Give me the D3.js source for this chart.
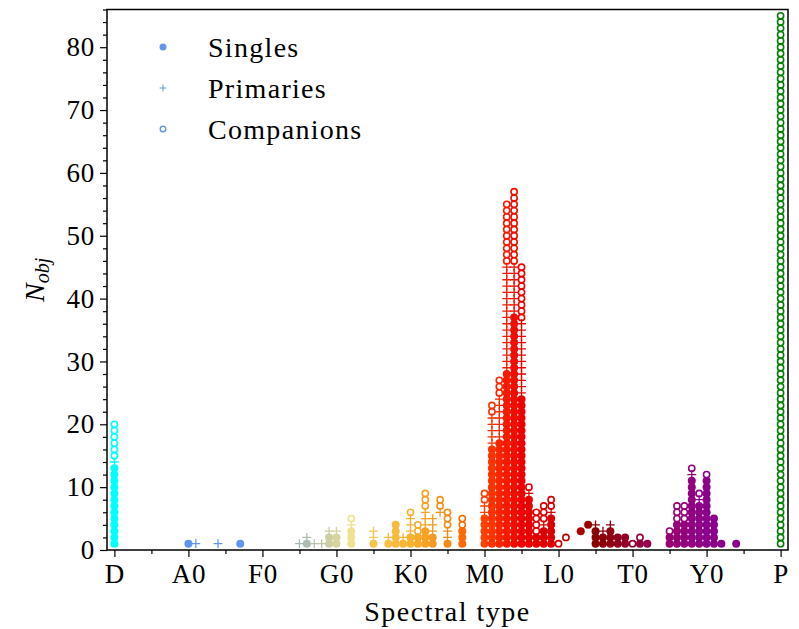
<!DOCTYPE html>
<html>
<head>
<meta charset="utf-8">
<script src="https://cdn.jsdelivr.net/npm/d3@7"></script>
<style>
  body { margin: 0; background: #fff; }
  text { font-family: "Liberation Serif", "DejaVu Serif", serif; fill: #000; }
</style>
</head>
<body>
<div id="chart"></div>
<script>
const width = 799;
const height = 629;

// spectral subtype codes: D=0, A0=10, F0=20, G0=30, K0=40, M0=50, L0=60, T0=70, Y0=80, P=90
const spType = [0, 10, 11, 14, 17, 25, 26, 27, 28, 29, 30, 32, 35, 37, 38, 39,
  40, 41, 42, 43, 44, 45, 47, 50, 51, 52, 53, 54, 55, 56, 57, 58, 59,
  60, 61, 63, 64, 65, 66, 67, 68, 69, 70, 71, 72, 75, 76, 77, 78, 79,
  80, 81, 82, 84, 90];
const singles = [13, 1, 0, 0, 1, 0, 1, 0, 0, 2, 2, 3, 1, 1, 4, 1,
  2, 2, 3, 2, 0, 1, 3, 5, 16, 17, 28, 37, 24, 8, 2, 3, 5,
  0, 0, 1, 1, 3, 2, 3, 2, 2, 0, 1, 1, 2, 4, 4, 11, 7,
  11, 5, 1, 1, 0];
const primaries = [1, 0, 1, 1, 0, 1, 1, 1, 1, 1, 1, 1, 2, 1, 0, 1,
  3, 0, 3, 3, 1, 2, 0, 2, 5, 7, 17, 8, 12, 1, 0, 1, 1,
  0, 0, 0, 0, 1, 1, 1, 0, 0, 0, 0, 0, 0, 0, 0, 1, 1,
  0, 0, 0, 0, 0];
const companions = [6, 0, 0, 0, 0, 0, 0, 0, 0, 0, 0, 1, 0, 0, 0, 0,
  1, 2, 3, 0, 2, 3, 2, 2, 2, 3, 10, 12, 9, 1, 4, 3, 2,
  1, 1, 0, 0, 0, 0, 0, 0, 0, 1, 1, 0, 1, 3, 3, 1, 1,
  1, 0, 0, 0, 85];
// empty slots below the first marker of a column
const emptyBelow = [0, 0, 0, 0, 0, 0, 0, 0, 0, 0, 0, 0, 0, 0, 0, 0,
  0, 0, 0, 0, 5, 0, 0, 0, 0, 0, 0, 0, 0, 0, 0, 0, 0,
  0, 1, 2, 3, 0, 0, 0, 0, 0, 0, 0, 0, 0, 0, 0, 0, 0,
  0, 0, 0, 0, 0];

const xTickVals = [0, 10, 20, 30, 40, 50, 60, 70, 80, 90];
const xTickLabels = ["D", "A0", "F0", "G0", "K0", "M0", "L0", "T0", "Y0", "P"];
const yTickVals = [0, 10, 20, 30, 40, 50, 60, 70, 80];

const colorStops = [0, 10, 17, 25, 30, 32, 35, 40, 45, 47, 50, 55, 60, 65, 70, 75, 80, 85, 90];
const colorValues = ["#00ffff", "#6495ed", "#6495ed", "#a3b6b8", "#d7d49d", "#eee28e", "#f7c44c",
  "#f8b232", "#f78a12", "#ff6a00", "#ff4000", "#ee0000", "#d40000", "#8b0000", "#940030",
  "#990070", "#8b008b", "#8b008b", "#008000"];

const legendLabels = ["Singles", "Primaries", "Companions"];

const margin = { left: 107, right: 11, top: 9.5, bottom: 79 };

const svg = d3.select("#chart").append("svg")
  .attr("width", width).attr("height", height);

const x = d3.scaleLinear().domain([-1, 91]).range([margin.left, width - margin.right]);
const y = d3.scaleLinear().domain([0, 86]).range([height - margin.bottom, margin.top]);
const color = d3.scaleLinear().domain(colorStops).range(colorValues);

// build markers
const pts = [];
spType.forEach((t, i) => {
  let lvl = emptyBelow[i];
  for (let k = 0; k < singles[i]; k++) pts.push({ t, n: ++lvl, kind: "s" });
  for (let k = 0; k < primaries[i]; k++) pts.push({ t, n: ++lvl, kind: "p" });
  for (let k = 0; k < companions[i]; k++) pts.push({ t, n: ++lvl, kind: "c" });
});

const plus = r => `M${-r},0H${r}M0,${-r}V${r}`;

const marks = svg.append("g");
marks.selectAll("circle.s").data(pts.filter(d => d.kind === "s")).join("circle")
  .attr("class", "s")
  .attr("cx", d => x(d.t)).attr("cy", d => y(d.n)).attr("r", 4.0)
  .attr("fill", d => color(d.t));
marks.selectAll("path.p").data(pts.filter(d => d.kind === "p")).join("path")
  .attr("class", "p")
  .attr("transform", d => `translate(${x(d.t)},${y(d.n)})`)
  .attr("d", plus(4.4))
  .attr("stroke", d => color(d.t)).attr("stroke-width", 1.3).attr("fill", "none");
marks.selectAll("circle.c").data(pts.filter(d => d.kind === "c")).join("circle")
  .attr("class", "c")
  .attr("cx", d => x(d.t)).attr("cy", d => y(d.n)).attr("r", 3.1)
  .attr("fill", "none")
  .attr("stroke", d => color(d.t)).attr("stroke-width", 1.6);

// axes
const fs = 27;
const xAxis = svg.append("g")
  .attr("transform", `translate(0,${y(0)})`)
  .call(d3.axisBottom(x).tickValues(xTickVals).tickFormat((d, i) => xTickLabels[i])
    .tickSize(7).tickSizeOuter(0).tickPadding(5));
xAxis.append("g").call(d3.axisBottom(x).tickValues(d3.range(5, 90, 10))
  .tickFormat("").tickSize(4).tickSizeOuter(0));

const yAxis = svg.append("g")
  .attr("transform", `translate(${x(-1)},0)`)
  .call(d3.axisLeft(y).tickValues(yTickVals).tickSize(7).tickSizeOuter(0).tickPadding(5));
yAxis.append("g").call(d3.axisLeft(y).tickValues(d3.range(0, 87, 2).filter(v => v % 10))
  .tickFormat("").tickSize(4).tickSizeOuter(0));

svg.selectAll(".domain").remove();
svg.selectAll(".tick line").attr("stroke", "#000").attr("stroke-width", 1.2);
svg.selectAll(".tick text").style("font-size", fs + "px")
  .style("font-family", "'Liberation Serif', 'DejaVu Serif', serif")
  .style("letter-spacing", "0.8px");
xAxis.selectAll(".tick text").attr("dy", "0.78em");

// frame
svg.append("rect")
  .attr("x", x(-1)).attr("y", y(86))
  .attr("width", x(91) - x(-1)).attr("height", y(0) - y(86))
  .attr("fill", "none").attr("stroke", "#000").attr("stroke-width", 1.5);

// axis labels
svg.append("text")
  .attr("x", (x(-1) + x(91)) / 2).attr("y", 621)
  .attr("text-anchor", "middle").style("font-size", "28px")
  .style("letter-spacing", "1.5px")
  .text("Spectral type");

const yl = svg.append("text")
  .attr("transform", `translate(44,${(y(0) + y(86)) / 2}) rotate(-90)`)
  .attr("text-anchor", "middle").style("font-size", "28px");
yl.append("tspan").attr("font-style", "italic").text("N");
yl.append("tspan").attr("font-style", "italic").attr("dy", 5)
  .style("font-size", "20px").text("obj");

// legend
const legendColor = "#6495ed";
const leg = svg.append("g");
legendLabels.forEach((lab, i) => {
  const ly = 47 + i * 41;
  if (i === 0) leg.append("circle").attr("cx", 163).attr("cy", ly).attr("r", 3.5).attr("fill", legendColor);
  if (i === 1) leg.append("path").attr("transform", `translate(163,${ly})`).attr("d", plus(3.4))
    .attr("stroke", legendColor).attr("stroke-width", 1);
  if (i === 2) leg.append("circle").attr("cx", 163).attr("cy", ly).attr("r", 2.8)
    .attr("fill", "none").attr("stroke", legendColor).attr("stroke-width", 1.4);
  leg.append("text").attr("x", 208).attr("y", ly).attr("dy", "0.35em")
    .style("font-size", "28px").style("letter-spacing", "1.3px").text(lab);
});
</script>
</body>
</html>
